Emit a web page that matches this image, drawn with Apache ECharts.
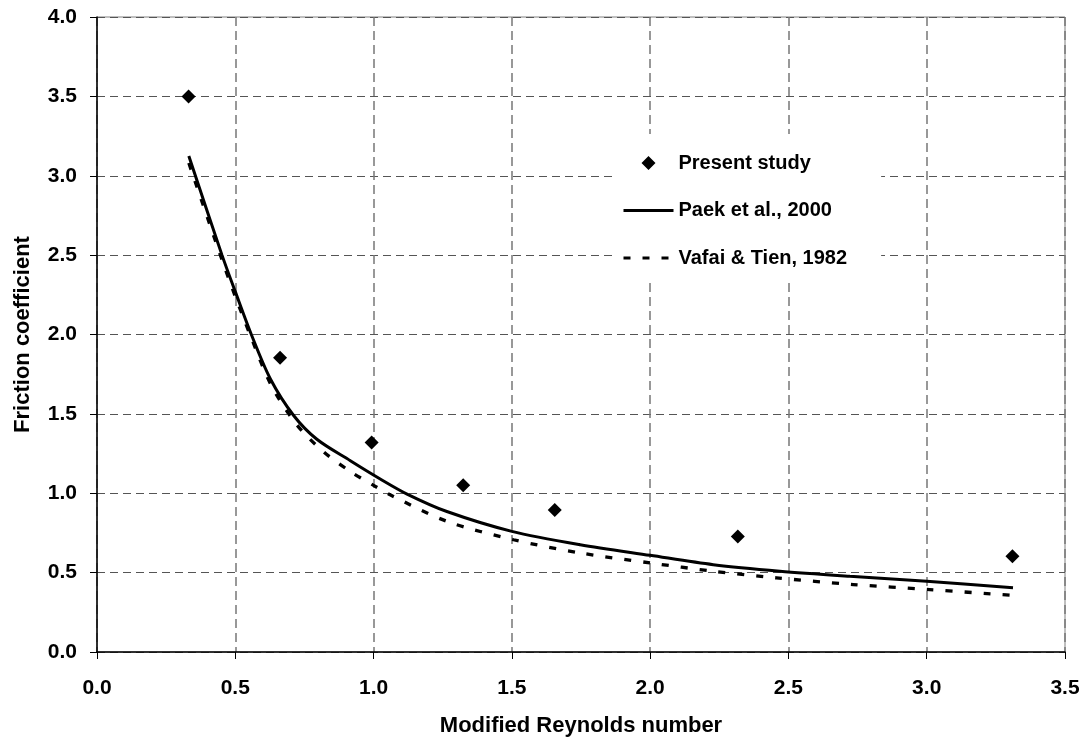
<!DOCTYPE html>
<html>
<head>
<meta charset="utf-8">
<script src="https://cdn.jsdelivr.net/npm/echarts@6/dist/echarts.min.js"></script>
<style>
html,body{margin:0;padding:0;background:#fff;}
#chart{width:1086px;height:742px;}
</style>
</head>
<body>
<div id="chart"></div>
<script>
// Present study (scatter)
const studyX = [0.331, 0.662, 0.993, 1.324, 1.655, 2.317, 3.31];
const studyY = [3.50, 1.854, 1.32, 1.05, 0.895, 0.728, 0.603];

// Paek et al., 2000 (solid line)
const paekX = [0.332, 0.452, 0.50, 0.558, 0.627, 0.711, 0.795, 0.916, 1.024, 1.121, 1.265, 1.50, 1.747, 2.00, 2.228, 2.469, 2.722, 3.00, 3.312];
const paekY = [3.125, 2.50, 2.27, 2.00, 1.72, 1.49, 1.34, 1.205, 1.09, 0.995, 0.885, 0.76, 0.676, 0.609, 0.55, 0.509, 0.477, 0.446, 0.404];

// Vafai & Tien, 1982 (dashed line)
const vafaiX = [0.332, 0.45, 0.50, 0.56, 0.63, 0.723, 0.82, 0.916, 1.00, 1.06, 1.265, 1.506, 1.747, 2.00, 2.228, 2.457, 2.734, 3.011, 3.30];
const vafaiY = [3.08, 2.48, 2.24, 1.97, 1.68, 1.43, 1.26, 1.137, 1.05, 0.99, 0.823, 0.707, 0.624, 0.561, 0.509, 0.467, 0.425, 0.393, 0.358];

const seriesNames = ['Present study', 'Paek et al., 2000', 'Vafai & Tien, 1982'];
const xAxisName = 'Modified Reynolds number';
const yAxisName = 'Friction coefficient';

const zip = (xs, ys) => xs.map((x, i) => [x, ys[i]]);
const FONT = "'Liberation Sans', Arial, Helvetica, sans-serif";
// diamond centred in a 50x14 box (tiny invisible end segments fix the box size)
const legendDiamond = 'path://M0,7L0.01,7M25,0L32,7L25,14L18,7ZM49.99,7L50,7';

const chart = echarts.init(document.getElementById('chart'), null, {renderer: 'canvas'});
chart.setOption({
  animation: false,
  backgroundColor: '#fff',
  textStyle: {fontFamily: FONT},
  grid: {
    left: 97, right: 21, top: 17, bottom: 88,
    show: true, borderColor: '#808080', borderWidth: 1, backgroundColor: 'transparent'
  },
  legend: {
    orient: 'vertical',
    left: 612, top: 134,
    padding: [19, 34, 15, 10],
    backgroundColor: '#fff',
    itemWidth: 50, itemHeight: 14, itemGap: 27.5,
    lineStyle: {width: 3},
    textStyle: {fontFamily: FONT, fontWeight: 'bold', fontSize: 20, color: '#000'},
    data: [
      {name: seriesNames[0], icon: legendDiamond, itemStyle: {color: '#000', borderWidth: 0}},
      {name: seriesNames[1], itemStyle: {opacity: 0}},
      {name: seriesNames[2], itemStyle: {opacity: 0}}
    ]
  },
  xAxis: {
    type: 'value', min: 0, max: 3.5, interval: 0.5,
    name: xAxisName, nameLocation: 'middle', nameGap: 63,
    nameTextStyle: {fontFamily: FONT, fontWeight: 'bold', fontSize: 22, color: '#000'},
    axisLine: {show: true, onZero: false, lineStyle: {color: '#000', width: 1.5}},
    axisTick: {show: true, inside: false, length: 7, lineStyle: {color: '#000', width: 1}},
    axisLabel: {margin: 26, fontFamily: FONT, fontWeight: 'bold', fontSize: 21, color: '#000',
      formatter: v => v.toFixed(1)},
    splitLine: {show: true, lineStyle: {color: '#777', width: 1.5, type: [9, 5]}}
  },
  yAxis: {
    type: 'value', min: 0, max: 4, interval: 0.5,
    name: yAxisName, nameLocation: 'middle', nameGap: 63,
    nameTextStyle: {fontFamily: FONT, fontWeight: 'bold', fontSize: 22, color: '#000'},
    axisLine: {show: true, onZero: false, lineStyle: {color: '#000', width: 1.5}},
    axisTick: {show: true, inside: false, length: 7, lineStyle: {color: '#000', width: 1}},
    axisLabel: {margin: 20, fontFamily: FONT, fontWeight: 'bold', fontSize: 21, color: '#000',
      formatter: v => v.toFixed(1)},
    splitLine: {show: true, lineStyle: {color: '#555', width: 1, type: [8, 5]}}
  },
  series: [
    {
      name: seriesNames[0], type: 'scatter', symbol: 'diamond', symbolSize: 14,
      itemStyle: {color: '#000', opacity: 1},
      data: zip(studyX, studyY), z: 5
    },
    {
      name: seriesNames[1], type: 'line', showSymbol: false, symbol: 'none', smooth: 0.3,
      lineStyle: {color: '#000', width: 3, type: 'solid'},
      itemStyle: {color: '#000'},
      data: zip(paekX, paekY), z: 4
    },
    {
      name: seriesNames[2], type: 'line', showSymbol: false, symbol: 'none', smooth: 0.3,
      lineStyle: {color: '#000', width: 3.3, type: [7, 12]},
      itemStyle: {color: '#000'},
      data: zip(vafaiX, vafaiY), z: 3
    }
  ]
});
</script>
</body>
</html>
